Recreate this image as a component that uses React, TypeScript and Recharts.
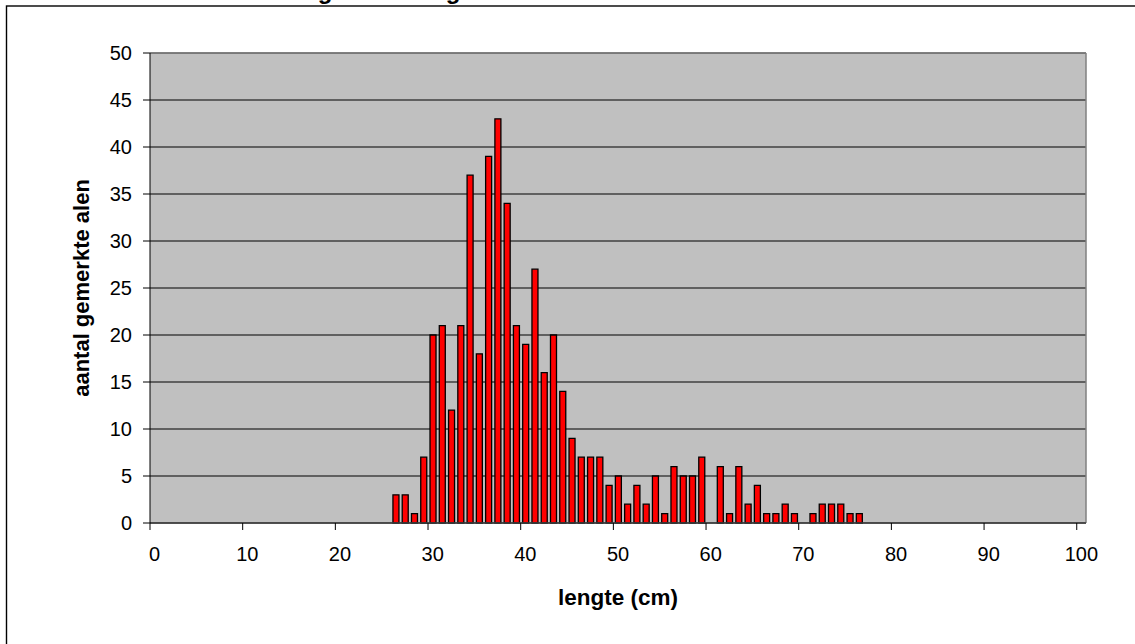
import React from 'react';
import { BarChart, Bar, XAxis, YAxis, CartesianGrid, ReferenceLine } from 'recharts';

// lengte (cm) per class, and how many marked eels were counted in it
const lengths = [
  26, 27, 28, 29, 30, 31, 32, 33, 34, 35, 36, 37, 38, 39, 40, 41, 42, 43, 44, 45, 46, 47, 48, 49, 50,
  51, 52, 53, 54, 55, 56, 57, 58, 59, 60, 61, 62, 63, 64, 65, 66, 67, 68, 69, 70, 71, 72, 73, 74, 75, 76,
];
const counts = [
  3, 3, 1, 7, 20, 21, 12, 21, 37, 18, 39, 43, 34, 21, 19, 27, 16, 20, 14, 9, 7, 7, 7, 4, 5,
  2, 4, 2, 5, 1, 6, 5, 5, 7, 0, 6, 1, 6, 2, 4, 1, 1, 2, 1, 0, 1, 2, 2, 2, 1, 1,
];
const xTicks = [0, 10, 20, 30, 40, 50, 60, 70, 80, 90, 100];
const yTicks = [0, 5, 10, 15, 20, 25, 30, 35, 40, 45, 50];

const chartTitle = 'Lengteverdeling alen';
const xTitle = 'lengte (cm)';
const yTitle = 'aantal gemerkte alen';

const data = lengths.map((len, i) => ({ len, count: counts[i] }));

const FONT = '"Liberation Sans", Arial, sans-serif';
const HALF_BAND = 4.63; // excel puts the tick marks between categories

const XTick = (props: any) => {
  const { x, y, payload } = props;
  return (
    <g>
      <line x1={x - HALF_BAND} y1={y} x2={x - HALF_BAND} y2={y + 7} stroke="#000" strokeWidth={1} />
      <text x={x} y={y + 38} textAnchor="middle" fontFamily={FONT} fontSize={20} fill="#000">
        {payload.value}
      </text>
    </g>
  );
};

const App: React.FC = () => {
  return (
    <div style={{ position: 'absolute', left: 0, top: 0, width: 1135, height: 644, overflow: 'hidden', background: '#fff' }}>
      <svg width={1135} height={644} style={{ position: 'absolute', left: 0, top: 0 }}>
        <rect x={6.5} y={6} width={2000} height={2000} fill="none" stroke="#000" strokeWidth={1.4} />
        {/* the title sits above the visible frame, only its descenders show */}
        <text x={275} y={-1} fontFamily={FONT} fontWeight="bold" fontSize={24} fill="#000">
          {chartTitle}
        </text>
        <text x={618} y={605} textAnchor="middle" fontFamily={FONT} fontWeight="bold" fontSize={22.5} fill="#000">
          {xTitle}
        </text>
        <text
          x={89}
          y={288}
          transform="rotate(-90, 89, 288)"
          textAnchor="middle"
          fontFamily={FONT}
          fontWeight="bold"
          fontSize={22}
          fill="#000"
        >
          {yTitle}
        </text>
      </svg>
      <div style={{ position: 'absolute', left: 0, top: 0 }}>
        <BarChart width={1135} height={644} data={data} margin={{ top: 53, right: 49, left: 90, bottom: 61 }}>
          <CartesianGrid vertical={false} fill="#C0C0C0" fillOpacity={1} stroke="#000" strokeWidth={1} />
          <XAxis
            dataKey="len"
            type="number"
            domain={[-0.5, 100.5]}
            allowDataOverflow
            ticks={xTicks}
            interval={0}
            height={60}
            tickLine={false}
            tickSize={0}
            tickMargin={0}
            tick={<XTick />}
            axisLine={{ stroke: '#404040', strokeWidth: 1.5 }}
          />
          <YAxis
            type="number"
            domain={[0, 50]}
            ticks={yTicks}
            interval={0}
            width={60}
            tickSize={7}
            tickMargin={11}
            tickLine={{ stroke: '#000' }}
            axisLine={{ stroke: '#000' }}
            tick={{ fontFamily: FONT, fontSize: 20, fill: '#000' }}
          />
          <ReferenceLine y={50} stroke="#808080" strokeWidth={1.5} />
          <ReferenceLine x={100.5} stroke="#808080" strokeWidth={1.5} />
          <Bar dataKey="count" fill="#FF0000" stroke="#000" strokeWidth={1.3} barSize={6} isAnimationActive={false} />
        </BarChart>
      </div>
    </div>
  );
};

export default App;
